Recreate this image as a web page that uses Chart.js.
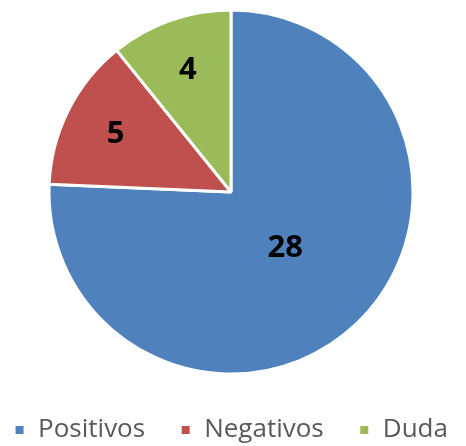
<!DOCTYPE html>
<html>
<head>
<meta charset="utf-8">
<script src="https://cdn.jsdelivr.net/npm/chart.js@4"></script>
<style>
  html, body { margin: 0; padding: 0; background: #fff; }
  #wrap { width: 466px; height: 446px; }
</style>
</head>
<body>
<div id="wrap"><canvas id="chartPie"></canvas></div>
<script>
const categories = ["Positivos", "Negativos", "Duda"];
const values = [28, 5, 4];
const colors = ["#4f81bd", "#c0504d", "#9bbb59"];

// draws the numbers inside each slice
const sliceLabels = {
    id: 'sliceLabels',
    afterDatasetsDraw(chart) {
        const ctx = chart.ctx;
        const meta = chart.getDatasetMeta(0);
        const fractions = [0.43, 0.71, 0.71];
        ctx.save();
        ctx.font = "bold 31px 'Open Sans'";
        ctx.fillStyle = "#000";
        ctx.textAlign = "center";
        ctx.textBaseline = "middle";
        meta.data.forEach((arc, i) => {
            const p = arc.getProps(['x', 'y', 'startAngle', 'endAngle', 'outerRadius']);
            const a = (p.startAngle + p.endAngle) / 2;
            const r = p.outerRadius * fractions[i];
            ctx.fillText(values[i], p.x + Math.cos(a) * r, p.y + Math.sin(a) * r);
        });
        ctx.restore();
    }
};

window.addEventListener('DOMContentLoaded', () => {
    const chartPie = new Chart("chartPie", {
        type: "pie",
        data: {
            labels: categories,
            datasets: [{
                backgroundColor: colors,
                borderColor: "#fff",
                borderWidth: 3,
                data: values
            }]
        },
        options: {
            responsive: true,
            maintainAspectRatio: false,
            animation: false,
            radius: 182,
            layout: { padding: { top: 8, right: 4, bottom: -7 } },
            plugins: {
                legend: {
                    position: 'bottom',
                    onClick: null,
                    // empty title only used as a spacer above the items
                    title: { display: true, text: '', font: { size: 10 }, padding: { top: 21, bottom: 0 } },
                    labels: {
                        boxWidth: 11,
                        boxHeight: 11,
                        padding: 8,
                        color: "#595959",
                        font: { family: "'Open Sans'", size: 26 },
                        generateLabels(chart) {
                            const items = Chart.overrides.pie.plugins.legend.labels.generateLabels(chart);
                            items.forEach((it, i) => {
                                if (i < items.length - 1) it.text += "    ";
                            });
                            return items;
                        }
                    }
                },
                tooltip: { enabled: false }
            }
        },
        plugins: [sliceLabels]
    });
});
</script>
</body>
</html>
